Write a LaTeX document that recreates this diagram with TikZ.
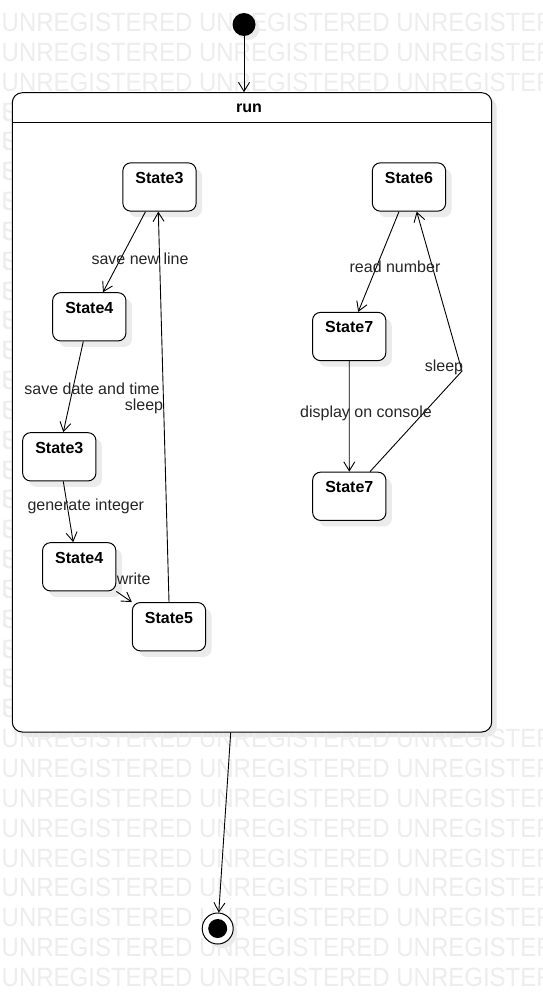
\documentclass[tikz,border=0pt]{standalone}
\usepackage{fontspec}
\usepackage{graphicx}
\setmainfont{Liberation Sans}
\usetikzlibrary{arrows.meta,shadows,calc}
\newlength\wmoff
\begin{document}
\begin{tikzpicture}[x=1pt,y=-1pt,
  lbl/.style={font=\fontsize{16}{18}\selectfont, text=black!85, inner sep=0pt},
  stbox/.style={draw, line width=1pt, rounded corners=8pt, fill=white,
    minimum width=73.3pt, minimum height=48.3pt, inner xsep=0pt, inner ysep=0pt,
    text height=20.5pt, text depth=27.8pt, font=\fontsize{16}{18}\selectfont\bfseries,
    general shadow={fill=black!8, shadow xshift=6pt, shadow yshift=-6pt}},
  tr/.style={line width=0.9pt, -{Straight Barb[length=9pt,width=11pt]}},
  wm/.style={anchor=base west, inner sep=0pt, text=black!7, font=\fontsize{24}{24}\selectfont}
]
\useasboundingbox (0,0) rectangle (542,993);
\fill[white] (0,0) rectangle (542,993);
\settowidth{\wmoff}{\fontsize{24}{24}\selectfont UNREGISTERED UNREGISTERED UNREGI}
% shadow of the composite state (under the watermark)
\fill[black!9, rounded corners=10pt] (17.3,97.7) rectangle (496.7,737);
% watermark
\begin{scope}
\clip (0,0) rectangle (542,993);
\foreach \k in {0,1,2,24,25,26,27,28,29,30,31,32}{
  \node[wm] (wm\k) at (1.5, {31.5+29.84*\k}) {\scalebox{1}[1.1]{UNREGISTERED UNREGISTERED UNREGISTERED}};
}
\foreach \k in {3,...,23}{
  \node[wm] (wmL\k) at (1.5, {31.5+29.84*\k}) {\scalebox{1}[1.1]{U}};
  \node[wm] (wmR\k) at ([xshift=\wmoff]1.5, {31.5+29.84*\k}) {\scalebox{1}[1.1]{STERED}};
}
\end{scope}

% composite state
\node[draw, line width=1pt, rounded corners=10pt, fill=white, minimum width=479.4pt, minimum height=639.3pt] (run) at (252,412.35) {};
\draw[line width=1pt] ([yshift=-30.6pt]run.north west) -- ([yshift=-30.6pt]run.north east);
\node[font=\fontsize{16}{18}\selectfont\bfseries, inner sep=0pt] (runlbl) at (249,108.5) {run};

% initial / final
\node[circle, fill=black, minimum size=23pt, inner sep=0pt,
  general shadow={fill=black!8, shadow xshift=4pt, shadow yshift=-4pt}] (init) at (244,24.5) {};
\node[circle, draw, line width=1pt, fill=white, minimum size=31pt, inner sep=0pt,
  general shadow={fill=black!8, shadow xshift=4pt, shadow yshift=-4pt}] (final) at (217.7,928.5) {};
\node[circle, fill=black, minimum size=19pt, inner sep=0pt] (finaldot) at (final) {};

% states
\node[stbox] (s3a) at (159.5,187) {State3};
\node[stbox] (s6)  at (409,187) {State6};
\node[stbox] (s4a) at (89.3,316.8) {State4};
\node[stbox] (s7a) at (349.2,336.5) {State7};
\node[stbox] (s3b) at (59.3,456.8) {State3};
\node[stbox] (s7b) at (349.3,496.3) {State7};
\node[stbox] (s4b) at (79.2,566.8) {State4};
\node[stbox] (s5)  at (169,626.7) {State5};

% transitions
\draw[tr] (init) -- (init |- run.north);
\draw[tr] ([xshift=-21.3pt]run.south) -- (final);
\draw[tr] ([xshift=-14pt]s3a.south) -- ([xshift=13.7pt]s4a.north);
\draw[tr] (s5.north) -- ([xshift=-1.2pt]s3a.south);
\draw[tr] ([xshift=-6pt]s4a.south) -- ([xshift=4pt]s3b.north);
\draw[tr] ([xshift=4pt]s3b.south) -- ([xshift=-6pt]s4b.north);
\draw[tr] (s4b.south east) -- (s5.north west);
\draw[tr] ([xshift=-10pt]s6.south) -- ([xshift=9pt]s7a.north);
\draw[tr] (s7a.south) -- (s7b.north);
\coordinate (bend) at (462,371);
\draw[tr] ([xshift=20.7pt]s7b.north) -- (bend) -- ([xshift=7.7pt]s6.south);

% labels
\node[lbl] (l1) at (140,258.5) {save new line};
\node[lbl] (l2) at (92,388.3) {save date and time};
\node[lbl] (l3) at (144,406) {sleep};
\node[lbl] (l4) at (85.8,506.7) {generate integer};
\node[lbl] (l5) at (133.7,578.3) {write};
\node[lbl] (l6) at (395,266.7) {read number};
\node[lbl] (l7) at (366,413.3) {display on console};
\node[lbl] (l8) at (444,367) {sleep};
\end{tikzpicture}
\end{document}
